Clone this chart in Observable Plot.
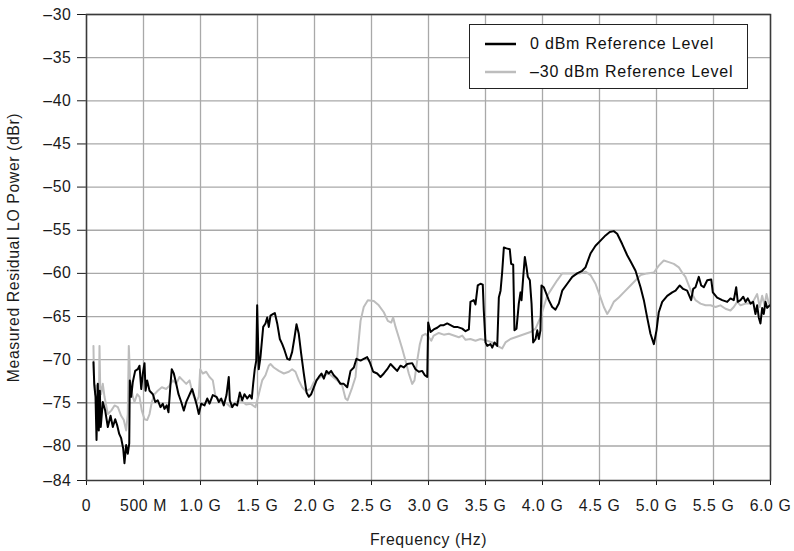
<!DOCTYPE html>
<html>
<head>
<meta charset="utf-8">
<script src="https://cdn.jsdelivr.net/npm/d3@7"></script>
<script src="https://cdn.jsdelivr.net/npm/@observablehq/plot@0.6"></script>
<style>
  html, body { margin: 0; padding: 0; background: #fff; }
  #wrap { position: relative; width: 794px; height: 551px; font-family: "Liberation Sans", Arial, Helvetica, sans-serif; }
  #legend { position: absolute; left: 469px; top: 24px; width: 277px; height: 63px; border: 1px solid #222; background: #fff; }
  .row { position: absolute; left: 0; height: 20px; display: flex; align-items: center; font-size: 16px; letter-spacing: 0.8px; color: #111; white-space: nowrap; }
  .row svg { margin-left: 15px; margin-right: 14px; }
</style>
</head>
<body>
<div id="wrap"></div>
<script>
// Series names
const seriesNames = ["0 dBm Reference Level", "\u201330 dBm Reference Level"];
const seriesColors = ["#000000", "#bdbdbd"];

// Tick values
const xTicks = [0, 0.5, 1.0, 1.5, 2.0, 2.5, 3.0, 3.5, 4.0, 4.5, 5.0, 5.5, 6.0];
const xTickLabels = ["0", "500 M", "1.0 G", "1.5 G", "2.0 G", "2.5 G", "3.0 G", "3.5 G", "4.0 G", "4.5 G", "5.0 G", "5.5 G", "6.0 G"];
const yTicks = [-84, -80, -75, -70, -65, -60, -55, -50, -45, -40, -35, -30];

// 0 dBm reference level: [frequency (GHz), residual LO power (dBr)]
const ref0 = [
[0.061,-70.3],[0.068,-72.8],[0.079,-74.3],[0.088,-79.3],[0.099,-72.8],[0.108,-78.2],[0.117,-73.6],[0.125,-77.8],
[0.143,-74.9],[0.164,-75.9],[0.187,-77.8],[0.211,-76.5],[0.231,-77.8],[0.252,-76.9],[0.269,-77.6],[0.287,-78.6],
[0.304,-79.1],[0.322,-80.3],[0.333,-82.0],[0.348,-79.9],[0.362,-80.9],[0.375,-79.7],[0.380,-72.4],[0.392,-74.3],
[0.406,-72.6],[0.427,-71.3],[0.450,-71.1],[0.465,-70.7],[0.480,-73.4],[0.494,-71.6],[0.509,-70.4],[0.518,-73.6],
[0.532,-72.4],[0.553,-73.6],[0.582,-74.0],[0.603,-74.9],[0.625,-74.7],[0.649,-75.5],[0.669,-75.1],[0.684,-75.7],
[0.704,-75.3],[0.719,-76.1],[0.737,-72.8],[0.748,-71.1],[0.766,-71.6],[0.787,-72.8],[0.807,-74.0],[0.831,-74.9],
[0.854,-75.9],[0.875,-74.9],[0.895,-74.3],[0.912,-73.8],[0.927,-73.4],[0.947,-74.3],[0.968,-75.3],[0.985,-76.3],
[1.006,-75.1],[1.035,-75.3],[1.059,-74.5],[1.079,-75.1],[1.108,-74.1],[1.140,-74.3],[1.161,-74.9],[1.182,-74.5],
[1.204,-75.3],[1.228,-74.1],[1.248,-72.0],[1.257,-74.7],[1.278,-75.5],[1.298,-75.1],[1.322,-75.3],[1.345,-73.8],
[1.366,-74.7],[1.386,-74.0],[1.410,-74.5],[1.432,-74.1],[1.450,-74.5],[1.462,-72.8],[1.476,-71.1],[1.489,-70.1],
[1.497,-63.7],[1.511,-71.1],[1.526,-69.7],[1.550,-66.2],[1.570,-65.8],[1.585,-65.1],[1.599,-66.2],[1.614,-64.9],
[1.638,-64.7],[1.652,-64.6],[1.673,-65.8],[1.696,-67.6],[1.717,-68.2],[1.737,-68.9],[1.761,-69.9],[1.783,-70.0],
[1.804,-69.1],[1.825,-67.4],[1.842,-65.9],[1.862,-67.0],[1.883,-69.3],[1.906,-71.6],[1.930,-73.8],[1.950,-74.3],
[1.971,-74.0],[1.994,-73.2],[2.018,-72.4],[2.038,-72.0],[2.061,-71.6],[2.082,-72.2],[2.105,-71.3],[2.125,-71.6],
[2.146,-71.3],[2.169,-71.8],[2.199,-72.2],[2.228,-72.8],[2.257,-72.8],[2.287,-73.2],[2.316,-71.3],[2.345,-70.9],
[2.368,-69.9],[2.404,-70.1],[2.432,-69.9],[2.462,-69.7],[2.485,-70.3],[2.515,-71.4],[2.550,-71.6],[2.579,-72.0],
[2.608,-71.6],[2.638,-71.1],[2.667,-70.5],[2.696,-70.9],[2.725,-71.3],[2.754,-70.7],[2.783,-70.9],[2.813,-70.5],
[2.857,-70.4],[2.886,-71.1],[2.915,-71.4],[2.945,-71.3],[2.968,-71.8],[2.989,-72.0],[2.997,-65.7],[3.018,-66.8],
[3.046,-66.5],[3.076,-66.3],[3.105,-66.0],[3.134,-66.0],[3.164,-65.8],[3.193,-66.0],[3.222,-66.2],[3.252,-66.2],
[3.296,-66.4],[3.325,-66.7],[3.354,-66.5],[3.368,-63.3],[3.397,-63.1],[3.412,-63.6],[3.432,-61.4],[3.456,-61.2],
[3.476,-61.3],[3.485,-64.3],[3.500,-68.0],[3.515,-68.4],[3.544,-68.2],[3.559,-68.6],[3.579,-68.0],[3.603,-68.4],
[3.617,-62.8],[3.632,-62.0],[3.646,-59.9],[3.661,-57.0],[3.684,-57.1],[3.713,-57.2],[3.725,-58.9],[3.743,-59.0],
[3.754,-66.6],[3.772,-66.4],[3.792,-63.5],[3.807,-62.2],[3.816,-63.1],[3.831,-60.4],[3.845,-58.1],[3.860,-59.3],
[3.871,-60.4],[3.889,-60.8],[3.904,-63.5],[3.918,-68.0],[3.939,-67.6],[3.954,-66.6],[3.968,-67.6],[3.982,-66.6],
[3.991,-61.4],[4.011,-61.6],[4.035,-62.4],[4.055,-63.1],[4.085,-63.9],[4.114,-64.2],[4.143,-63.5],[4.173,-62.0],
[4.217,-61.2],[4.261,-60.4],[4.304,-60.0],[4.348,-59.7],[4.377,-59.3],[4.421,-57.7],[4.465,-56.8],[4.509,-56.2],
[4.553,-55.6],[4.590,-55.2],[4.625,-55.1],[4.655,-55.4],[4.699,-56.6],[4.743,-57.9],[4.772,-58.6],[4.816,-59.7],
[4.860,-61.6],[4.889,-63.1],[4.918,-65.1],[4.947,-67.0],[4.977,-68.2],[5.000,-66.6],[5.020,-64.5],[5.050,-63.3],
[5.094,-62.6],[5.138,-62.2],[5.167,-62.0],[5.204,-61.4],[5.234,-61.8],[5.269,-62.0],[5.304,-63.1],[5.322,-61.8],
[5.342,-61.6],[5.371,-60.4],[5.392,-61.4],[5.415,-61.6],[5.445,-60.8],[5.480,-60.7],[5.494,-62.2],[5.532,-62.8],
[5.576,-63.1],[5.620,-63.3],[5.649,-62.9],[5.678,-63.1],[5.699,-61.6],[5.713,-63.3],[5.737,-63.1],[5.761,-62.7],
[5.781,-63.3],[5.801,-62.9],[5.825,-63.5],[5.848,-63.3],[5.868,-64.7],[5.883,-63.7],[5.897,-65.1],[5.912,-65.8],
[5.927,-64.0],[5.941,-64.7],[5.956,-63.3],[5.971,-64.0],[5.994,-63.7]
];

// -30 dBm reference level: [frequency (GHz), residual LO power (dBr)]
const ref30 = [
[0.061,-68.4],[0.066,-72.5],[0.075,-74.0],[0.085,-73.0],[0.100,-73.8],[0.110,-73.5],[0.114,-68.4],[0.120,-73.0],
[0.129,-74.0],[0.143,-72.8],[0.158,-74.3],[0.187,-76.3],[0.217,-75.9],[0.246,-75.3],[0.275,-75.5],[0.304,-76.5],
[0.327,-77.0],[0.348,-78.2],[0.362,-76.3],[0.371,-68.4],[0.383,-72.4],[0.406,-74.3],[0.421,-74.9],[0.445,-74.0],
[0.465,-74.3],[0.485,-75.9],[0.509,-76.9],[0.532,-77.0],[0.553,-76.3],[0.573,-74.9],[0.596,-74.0],[0.625,-73.6],
[0.661,-73.2],[0.699,-73.4],[0.728,-73.0],[0.757,-72.4],[0.787,-72.8],[0.816,-72.0],[0.845,-72.4],[0.875,-72.8],
[0.904,-72.4],[0.932,-74.0],[0.962,-74.9],[0.985,-74.3],[0.997,-71.1],[1.020,-71.6],[1.050,-71.4],[1.079,-72.0],
[1.108,-72.4],[1.132,-74.3],[1.175,-74.7],[1.234,-75.1],[1.263,-75.5],[1.300,-75.0],[1.351,-74.7],[1.400,-75.2],
[1.439,-75.1],[1.482,-75.5],[1.511,-74.0],[1.541,-72.4],[1.570,-71.8],[1.599,-70.7],[1.614,-70.5],[1.643,-70.9],
[1.687,-71.3],[1.731,-71.6],[1.775,-71.4],[1.804,-71.1],[1.833,-71.4],[1.862,-72.4],[1.892,-73.2],[1.921,-73.6],
[1.965,-73.4],[1.994,-72.6],[2.053,-72.0],[2.125,-71.6],[2.199,-72.4],[2.243,-73.0],[2.272,-74.5],[2.290,-74.7],
[2.331,-73.2],[2.360,-72.0],[2.380,-68.9],[2.404,-65.5],[2.432,-63.9],[2.468,-63.1],[2.520,-63.2],[2.564,-63.7],
[2.608,-64.5],[2.643,-65.5],[2.673,-65.7],[2.690,-65.1],[2.711,-66.2],[2.739,-67.4],[2.769,-68.7],[2.798,-70.1],
[2.827,-71.6],[2.857,-72.8],[2.877,-72.4],[2.901,-70.1],[2.924,-68.2],[2.945,-67.2],[2.974,-67.0],[3.003,-67.4],
[3.024,-67.8],[3.046,-67.2],[3.090,-66.9],[3.134,-67.1],[3.178,-67.0],[3.222,-67.2],[3.266,-67.4],[3.296,-67.2],
[3.325,-67.7],[3.368,-67.6],[3.412,-67.8],[3.456,-67.6],[3.515,-67.8],[3.559,-68.0],[3.603,-68.4],[3.646,-68.7],
[3.675,-68.0],[3.719,-67.6],[3.763,-67.4],[3.807,-67.2],[3.851,-67.0],[3.895,-66.8],[3.939,-66.4],[3.982,-65.1],
[4.011,-63.9],[4.041,-62.6],[4.070,-62.0],[4.129,-60.8],[4.173,-60.0],[4.217,-60.0],[4.275,-60.0],[4.333,-60.0],
[4.377,-59.8],[4.421,-60.2],[4.465,-61.2],[4.509,-62.8],[4.538,-63.9],[4.568,-64.7],[4.596,-64.1],[4.625,-63.3],
[4.669,-62.8],[4.713,-62.2],[4.772,-61.4],[4.860,-60.2],[4.918,-60.0],[4.977,-59.9],[5.020,-59.1],[5.064,-58.5],
[5.108,-58.7],[5.152,-58.9],[5.196,-59.3],[5.225,-59.9],[5.254,-60.4],[5.283,-61.4],[5.313,-62.4],[5.342,-63.1],
[5.386,-63.5],[5.430,-63.7],[5.474,-63.7],[5.518,-63.9],[5.561,-63.7],[5.605,-64.1],[5.649,-64.3],[5.678,-63.9],
[5.708,-63.3],[5.737,-63.7],[5.781,-63.5],[5.825,-63.5],[5.854,-63.1],[5.883,-62.4],[5.906,-63.9],[5.927,-62.6],
[5.947,-63.7],[5.965,-62.4],[5.985,-63.5]
];

const fmtNeg = d => d < 0 ? "\u2013" + Math.abs(d) : String(d);
const fmtX = d => xTickLabels[xTicks.indexOf(d)];

const chart = Plot.plot({
  width: 794,
  height: 551,
  marginLeft: 86,
  marginRight: 24,
  marginTop: 14,
  marginBottom: 71,
  style: {
    fontFamily: '"Liberation Sans", Arial, Helvetica, sans-serif',
    fontSize: "15.8px",
    color: "#1a1a1a",
    background: "#fff",
    overflow: "visible",
    letterSpacing: "0.6px"
  },
  x: {
    domain: [0, 6],
    ticks: xTicks,
    tickFormat: fmtX,
    tickSize: 5,
    tickPadding: 14,
    label: "Frequency (Hz)",
    labelAnchor: "center",
    labelOffset: 64,
    labelArrow: "none"
  },
  y: {
    domain: [-84, -30],
    ticks: yTicks,
    tickFormat: fmtNeg,
    tickSize: 9,
    tickPadding: 6,
    label: "Measured Residual LO Power (dBr)",
    labelAnchor: "center",
    labelOffset: 79,
    labelArrow: "none"
  },
  marks: [
    Plot.ruleX(xTicks, {stroke: "#a9a9a9", strokeWidth: 1.3}),
    Plot.ruleY(yTicks.filter(d => d > -84), {stroke: "#a9a9a9", strokeWidth: 1.3}),
    Plot.line(ref30, {x: d => d[0], y: d => d[1], stroke: seriesColors[1], strokeWidth: 2, strokeLinejoin: "round"}),
    Plot.line(ref0, {x: d => d[0], y: d => d[1], stroke: seriesColors[0], strokeWidth: 2, strokeLinejoin: "round"}),
    Plot.frame({stroke: "#3a3a3a", strokeWidth: 1.5})
  ]
});

const wrap = document.getElementById("wrap");
wrap.appendChild(chart);

// Legend (inside the plot area, top right)
const legend = document.createElement("div");
legend.id = "legend";
seriesNames.forEach((name, i) => {
  const row = document.createElement("div");
  row.className = "row";
  row.style.top = (9 + i * 28) + "px";
  row.innerHTML = `<svg width="31" height="6"><line x1="0" y1="3" x2="31" y2="3" stroke="${seriesColors[i]}" stroke-width="2.5"/></svg><span>${name}</span>`;
  legend.appendChild(row);
});
wrap.appendChild(legend);
</script>
</body>
</html>
